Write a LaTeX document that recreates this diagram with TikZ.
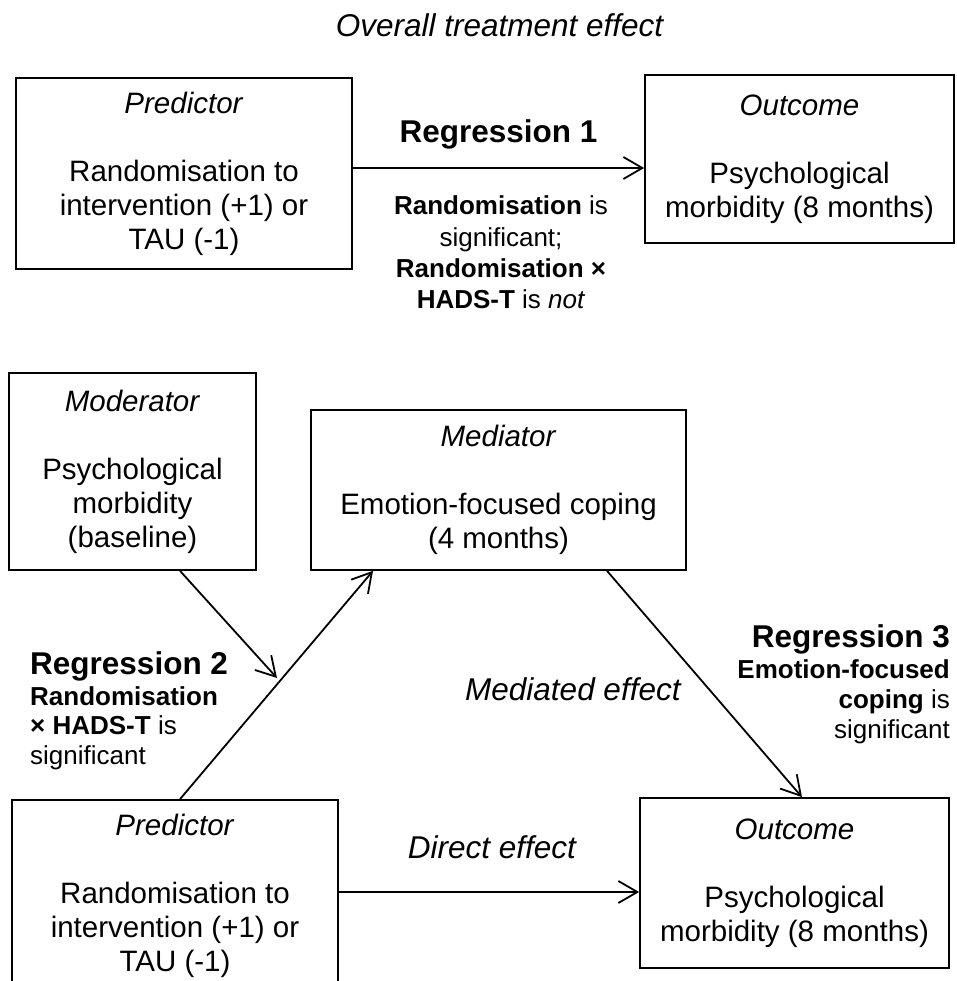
\documentclass[tikz,border=0pt]{standalone}
\usepackage{fontspec}
\setmainfont{Liberation Sans}
\usetikzlibrary{arrows.meta,calc}
\newcommand\boxfont{\fontsize{29.5}{34}\selectfont}
\tikzset{
  box/.style={draw, line width=1.7pt, inner sep=0pt, align=center, font=\boxfont},
  arr/.style={line width=1.8pt, -{Straight Barb[length=19pt,width=22pt,line width=1.8pt]}},
  bigbold/.style={font=\fontsize{31.5}{36}\selectfont\bfseries, inner sep=0pt},
  note/.style={font=\fontsize{26}{30.5}\selectfont, inner sep=0pt},
  elabel/.style={font=\fontsize{31.5}{36}\selectfont\itshape, inner sep=0pt},
}
\begin{document}
\begin{tikzpicture}[x=1pt,y=-1pt]
\useasboundingbox (0,0) rectangle (956,981);

% upper panel: total effect
\node[elabel, anchor=base] (title) at (499.5,37) {Overall treatment effect};
\node[box, minimum width=336pt, minimum height=191pt] (pred1) at (184,173.5)
  {\textit{Predictor}\\[34pt] Randomisation to\\ intervention (+1) or\\ TAU (-1)};
\node[box, minimum width=309pt, minimum height=168pt] (out1) at (799.5,159)
  {\textit{Outcome}\\[34pt] Psychological\\ morbidity (8 months)};
\coordinate (r1) at (0,168);
\draw[arr] (pred1.east |- r1) -- (out1.west |- r1);
\node[bigbold, anchor=base] (reg1) at (498.5,143) {Regression 1};
% multi-line notes are anchored at the baseline of their last line
\node[note, font=\fontsize{26}{31}\selectfont, anchor=base, align=center] (reg1note) at (501,308)
  {\textbf{Randomisation} is\\ significant;\\ \textbf{Randomisation ×}\\ \textbf{HADS-T} is \textit{not}};

% lower panel: moderated mediation
\node[box, minimum width=247pt, minimum height=197pt] (mod) at (132.5,471.5)
  {\textit{Moderator}\\[34pt] Psychological\\ morbidity\\ (baseline)};
\node[box, minimum width=375pt, minimum height=160pt] (med) at (498.5,490)
  {\textit{Mediator}\\[34pt] Emotion-focused coping\\ (4 months)};
\node[box, minimum width=326pt, minimum height=191pt] (pred2) at (175,895.5)
  {\textit{Predictor}\\[34pt] Randomisation to\\ intervention (+1) or\\ TAU (-1)};
\node[box, minimum width=309pt, minimum height=170pt] (out2) at (794.5,883)
  {\textit{Outcome}\\[34pt] Psychological\\ morbidity (8 months)};

\draw[arr] ([xshift=5pt]pred2.north) -- ([xshift=-125.5pt]med.south);
\draw[arr] ([xshift=108.5pt]med.south) -- ([xshift=7.5pt]out2.north);
\coordinate (modtip) at (277,678);
\draw[arr] ([xshift=47.5pt]mod.south) -- (modtip);
\coordinate (r2) at (0,892);
\draw[arr] (pred2.east |- r2) -- (out2.west |- r2);

\node[bigbold, anchor=base west] (reg2) at (30,674) {Regression 2};
\node[note, font=\fontsize{26}{29.5}\selectfont, anchor=base west, align=left] (reg2note) at (30,764)
  {\textbf{Randomisation}\\ \textbf{× HADS-T} is\\ significant};
\node[elabel, anchor=base west] (medeff) at (465,700) {Mediated effect};
\node[bigbold, anchor=base east] (reg3) at (950,647) {Regression 3};
\node[note, font=\fontsize{26}{30}\selectfont, anchor=base east, align=right] (reg3note) at (950,738)
  {\textbf{Emotion-focused}\\ \textbf{coping} is\\ significant};
\node[elabel, anchor=base] (direff) at (492,858) {Direct effect};
\end{tikzpicture}
\end{document}
